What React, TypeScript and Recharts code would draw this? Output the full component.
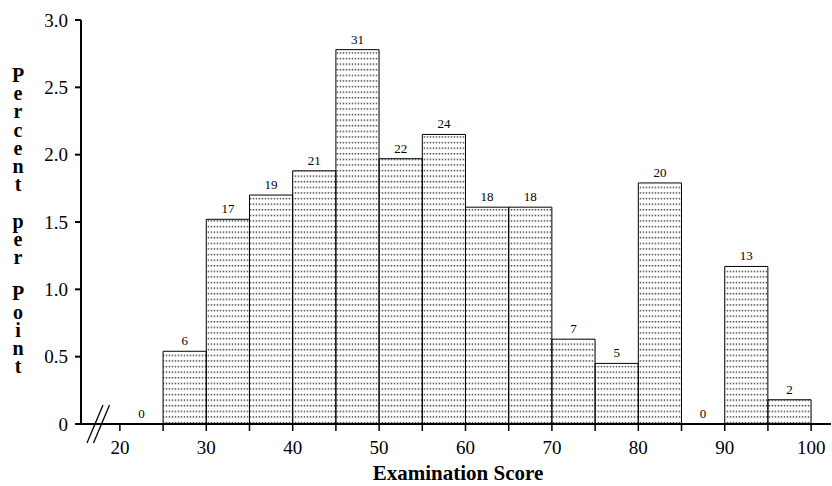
import { ComposedChart, Bar, Line, XAxis, YAxis, LabelList } from "recharts";

// histogram bins, 5 points wide
const binStarts = [20, 25, 30, 35, 40, 45, 50, 55, 60, 65, 70, 75, 80, 85, 90, 95];
const counts = [0, 6, 17, 19, 21, 31, 22, 24, 18, 18, 7, 5, 20, 0, 13, 2];
const percentPerPoint = [
  0, 0.54, 1.52, 1.7, 1.88, 2.78, 1.97, 2.15, 1.61, 1.61, 0.63, 0.45, 1.79, 0, 1.17, 0.18,
];
const xTicks = [20, 25, 30, 35, 40, 45, 50, 55, 60, 65, 70, 75, 80, 85, 90, 95, 100];
const yTicks = [0, 0.5, 1, 1.5, 2, 2.5, 3];
const yTitleWords = ["Percent", "per", "Point"];
const xTitle = "Examination Score";

const BIN_WIDTH = 5;
const X_MIN = 15.5;
const X_MAX = 102.3;

const W = 832;
const H = 486;
const LEFT = 81;
const RIGHT_MARGIN = 1;
const plotWidth = W - LEFT - RIGHT_MARGIN;
// a hair under the band so recharts doesn't shrink bars to 90%
const barSize = (BIN_WIDTH * plotWidth) / (X_MAX - X_MIN) - 0.05;

const data = binStarts.map((s, i) => ({
  mid: s + BIN_WIDTH / 2,
  value: percentPerPoint[i],
  count: counts[i],
}));

const serif = "'Liberation Serif', 'Times New Roman', serif";

const yLetters: string[] = [];
yTitleWords.forEach((w, i) => {
  if (i > 0) yLetters.push("");
  w.split("").forEach((c) => yLetters.push(c));
});

const renderCount = (props: any) => {
  const { x, y, value } = props;
  return (
    <text
      x={x}
      y={y - 6}
      textAnchor="middle"
      fontFamily={serif}
      fontSize={13}
      fill="#000"
    >
      {value}
    </text>
  );
};

export default function App() {
  return (
    <div style={{ position: "absolute", left: 0, top: 0, width: W, height: H, background: "#fff" }}>
      <ComposedChart
        width={W}
        height={H}
        data={data}
        margin={{ top: 20, right: RIGHT_MARGIN, left: 0, bottom: 0 }}
        barCategoryGap={0}
        barGap={0}
      >
        <defs>
          <pattern id="dots" width="3" height="5.6" patternUnits="userSpaceOnUse">
            <rect x="0.7" y="2" width="1.5" height="1.2" fill="#222" />
          </pattern>
        </defs>
        <XAxis
          dataKey="mid"
          type="number"
          domain={[X_MIN, X_MAX]}
          allowDataOverflow
          ticks={xTicks}
          tickFormatter={(v: number) => (v % 10 === 0 ? String(v) : "")}
          interval={0}
          height={62}
          tickSize={7}
          tickMargin={10}
          axisLine={{ stroke: "#000", strokeWidth: 2 }}
          tickLine={{ stroke: "#000", strokeWidth: 1.5 }}
          tick={{ fill: "#000", fontFamily: serif, fontSize: 19 }}
        />
        <YAxis
          width={LEFT}
          domain={[0, 3]}
          ticks={yTicks}
          interval={0}
          tickFormatter={(v: number) => (v === 0 ? "0" : v.toFixed(1))}
          tickSize={6}
          tickMargin={7}
          axisLine={{ stroke: "#000", strokeWidth: 2 }}
          tickLine={{ stroke: "#000", strokeWidth: 2 }}
          tick={{ fill: "#000", fontFamily: serif, fontSize: 19 }}
        />
        <Bar
          dataKey="value"
          fill="url(#dots)"
          stroke="#000"
          strokeWidth={1}
          barSize={barSize}
          isAnimationActive={false}
        />
        <Line
          dataKey="value"
          stroke="none"
          dot={false}
          activeDot={false}
          isAnimationActive={false}
        >
          <LabelList dataKey="count" content={renderCount} />
        </Line>
      </ComposedChart>
      <svg
        width={W}
        height={H}
        style={{ position: "absolute", left: 0, top: 0, pointerEvents: "none" }}
      >
        {/* axis break */}
        <line x1={87} y1={443} x2={103} y2={405} stroke="#000" strokeWidth={1.3} />
        <line x1={93.5} y1={443} x2={109.5} y2={405} stroke="#000" strokeWidth={1.3} />
        {yLetters.map((c, i) =>
          c ? (
            <text
              key={i}
              x={18}
              y={82 + i * 18.2}
              textAnchor="middle"
              fontFamily={serif}
              fontWeight="bold"
              fontSize={20}
              fill="#000"
            >
              {c}
            </text>
          ) : null
        )}
        <text
          x={458}
          y={480}
          textAnchor="middle"
          fontFamily={serif}
          fontWeight="bold"
          fontSize={21}
          fill="#000"
        >
          {xTitle}
        </text>
      </svg>
    </div>
  );
}
